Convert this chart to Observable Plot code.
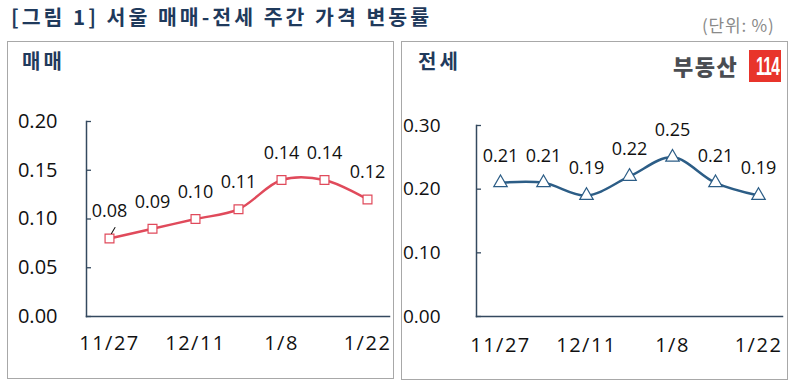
<!DOCTYPE html>
<html><head><meta charset="utf-8">
<script src="https://cdn.jsdelivr.net/npm/d3@7"></script>
<script src="https://cdn.jsdelivr.net/npm/@observablehq/plot@0.6"></script>
<style>
html,body{margin:0;padding:0;background:#fff;}
#wrap{position:relative;width:795px;height:389px;overflow:hidden;font-family:"Noto Sans CJK KR","Noto Sans",sans-serif;}
.title{position:absolute;left:11px;top:1px;font-size:20.5px;font-weight:bold;color:#1f3a5c;letter-spacing:3px;white-space:nowrap;}
.unit{position:absolute;left:702px;top:12px;font-size:17px;color:#8a8a8a;letter-spacing:0.8px;white-space:nowrap;}
.panel{position:absolute;border:1.5px solid #a8a8a8;background:#fff;box-sizing:border-box;}
.ptitle{position:absolute;font-size:20px;font-weight:bold;color:#1f3a5c;letter-spacing:3px;white-space:nowrap;}
.logot{position:absolute;left:673px;top:50px;font-size:22px;font-weight:900;color:#4a4d52;letter-spacing:1.5px;white-space:nowrap;line-height:30px;}
.logob{position:absolute;left:749px;top:50px;width:32px;height:32px;background:#e8342b;color:#fff;font-family:"Liberation Sans",sans-serif;font-weight:bold;font-size:25px;line-height:32px;text-align:center;letter-spacing:-1px;overflow:hidden;}
.logob span{display:inline-block;transform:scaleX(0.62);}
.plot{position:absolute;}
.plot g[aria-label="x-axis tick label"] text{letter-spacing:1.5px;}
</style></head>
<body><div id="wrap">
<div class="title">[그림 1] 서울 매매-전세 주간 가격 변동률</div>
<div class="unit">(단위: %)</div>
<div class="panel" style="left:7px;top:41px;width:387px;height:338px;"></div>
<div class="panel" style="left:401px;top:41px;width:387px;height:339px;"></div>
<div class="ptitle" style="left:22px;top:46px;">매매</div>
<div class="ptitle" style="left:418px;top:46px;">전세</div>
<div class="logot">부동산</div>
<div class="logob"><span>114</span></div>
<div id="p1" class="plot" style="left:8px;top:100px;"></div>
<div id="p2" class="plot" style="left:400px;top:100px;"></div>
</div>
<script>
const weeks = ["11/27","12/4","12/11","12/18","1/8","1/15","1/22"];
const shownWeeks = ["11/27","12/11","1/8","1/22"];
const saleValues = [0.08,0.09,0.10,0.11,0.14,0.14,0.12];
const jeonseValues = [0.21,0.21,0.19,0.22,0.25,0.21,0.19];
const saleTicks = [0,0.05,0.10,0.15,0.20];
const jeonseTicks = [0,0.10,0.20,0.30];

const axisColor = "#34495f";
const font = '"Open Sans","Noto Sans",sans-serif';
const leader = {draw(ctx, l){ ctx.moveTo(0,0); ctx.lineTo(0,-l); }};

function makePlot({values, ticks, domain, color, symbol, r, mLeft, mTop, width, yPad, xPad, yFont, leaderFirst}) {
  const data = weeks.map((w,i)=>({week:w, value:values[i]}));
  const marks = [
    Plot.axisY({ticks, tickFormat:d=>d.toFixed(2), tickSize:-5, tickPadding:yPad+5, fontSize:yFont, stroke:axisColor, fill:"#111", strokeWidth:1.3, label:null}),
    Plot.axisX({ticks:shownWeeks, tickSize:0, tickPadding:xPad, fontSize:20, fill:"#111", label:null}),
    Plot.frame({anchor:"left", stroke:axisColor, strokeWidth:1.5}),
    Plot.frame({anchor:"bottom", stroke:axisColor, strokeWidth:1.5}),
    Plot.line(data, {x:"week", y:"value", stroke:color, strokeWidth:2.5, curve:"catmull-rom"}),
    Plot.dot(data, {x:"week", y:"value", symbol, r, fill:"white", stroke:color, strokeWidth:1.2}),
    Plot.text(data, {x:"week", y:"value", text:d=>d.value.toFixed(2), dy:-27, fontSize:18, fill:"#111"})
  ];
  if (leaderFirst) {
    marks.push(Plot.vector(data.slice(0,1), {x:"week", y:"value", length:7, rotate:30, anchor:"start", shape:leader, dy:-5, dx:2, stroke:"#111", strokeWidth:1}));
  }
  return Plot.plot({
    width, height:270,
    marginLeft:mLeft, marginRight:3, marginTop:mTop, marginBottom:54,
    style:{fontFamily:font, background:"transparent", color:"#111"},
    x:{type:"point", domain:weeks, padding:0.5},
    y:{domain, ticks},
    marks
  });
}

document.getElementById("p1").appendChild(makePlot({
  values:saleValues, ticks:saleTicks, domain:[0,0.20], color:"#e04a5b", symbol:"square", r:5,
  mLeft:78, mTop:21, width:384, yPad:29, xPad:19, yFont:20, leaderFirst:true
}));
document.getElementById("p2").appendChild(makePlot({
  values:jeonseValues, ticks:jeonseTicks, domain:[0,0.30], color:"#2c5d86", symbol:"triangle", r:5,
  mLeft:76, mTop:25, width:385, yPad:36, xPad:21, yFont:19, leaderFirst:false
}));
</script>
</body></html>
